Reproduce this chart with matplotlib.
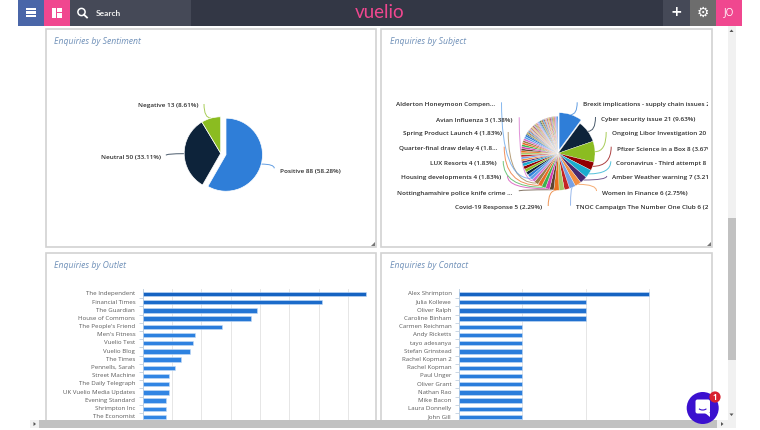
import numpy as np
import matplotlib
matplotlib.use("Agg")
import matplotlib.pyplot as plt
from matplotlib.patches import Rectangle, Circle, Polygon, PathPatch, FancyBboxPatch, Arc
from matplotlib.path import Path
from matplotlib.transforms import Bbox, TransformedBbox, ScaledTranslation

W, H = 760, 430
plt.rcParams['font.family'] = ['Open Sans', 'DejaVu Sans']

sentiment_names = ["Positive", "Neutral", "Negative"]
sentiment_values = [88, 50, 13]
sentiment_pct = ["58.28%", "33.11%", "8.61%"]

subject_values = [22, 21, 20, 8, 8, 7, 6, 6, 5, 5, 5, 4, 4, 4, 4, 4, 3, 3,
                  3, 3, 3, 3, 3,
                  2, 2, 2, 2, 2, 2, 2, 2, 2, 2, 2, 2, 2, 2,
                  1, 1, 1, 1, 1, 1, 1, 1, 1, 1, 1, 1, 1, 1, 1, 1, 1, 1,
                  1, 1, 1, 1, 1, 1, 1, 1, 1, 1, 1, 1, 1, 1, 1, 1, 1, 1]
right_labels = ["Brexit implications - supply chain issues 22 (10.09%)",
                "Cyber security issue 21 (9.63%)",
                "Ongoing Libor Investigation 20 (9.17%)",
                "Pfizer Science in a Box 8 (3.67%)",
                "Coronavirus - Third attempt 8 (3.67%)",
                "Amber Weather warning 7 (3.21%)",
                "Women in Finance 6 (2.75%)",
                "TNOC Campaign The Number One Club 6 (2.75%)"]
left_labels = ["Covid-19 Response 5 (2.29%)",
               "Nottinghamshire police knife crime ...",
               "Housing developments 4 (1.83%)",
               "LUX Resorts 4 (1.83%)",
               "Quarter-final draw delay 4 (1.8...",
               "Spring Product Launch 4 (1.83%)",
               "Avian Influenza 3 (1.38%)",
               "Alderton Honeymoon Compen..."]

outlet_names = ["The Independent", "Financial Times", "The Guardian", "House of Commons",
                "The People's Friend", "Men's Fitness", "Vuelio Test", "Vuelio Blog",
                "The Times", "Pennells, Sarah", "Street Machine", "The Daily Telegraph",
                "UK Vuelio Media Updates", "Evening Standard", "Shrimpton Inc", "The Economist"]
outlet_values = [76, 61, 39, 37, 27, 18, 17, 16, 13, 11, 9, 9, 9, 8, 8, 8]

contact_names = ["Alex Shrimpton", "Julia Kollewe", "Oliver Ralph", "Caroline Binham",
                 "Carmen Reichman", "Andy Ricketts", "tayo adesanya", "Stefan Grinstead",
                 "Rachel Kopman 2", "Rachel Kopman", "Paul Unger", "Oliver Grant",
                 "Nathan Rao", "Mike Bacon", "Laura Donnelly", "John Gill"]
contact_values = [3, 2, 2, 2, 1, 1, 1, 1, 1, 1, 1, 1, 1, 1, 1, 1]

palette = ["#2f7ed8", "#0d233a", "#8bbc21", "#910000", "#1aadce", "#492970", "#f28f43",
           "#77a1e5", "#c42525", "#a6c96a", "#e8701c", "#5b4632", "#d23fb4", "#3fb24f",
           "#ea6a24", "#9c7d4a", "#d56ccb", "#5d9fe8"]
LABEL = "#2b2b2b"
AXIS_TXT = "#5a5a5a"
TITLE = "#6f90b8"
PINK = "#f0478f"

fig = plt.figure(figsize=(W / 100, H / 100), dpi=100, facecolor="white")
bg = fig.add_axes([0, 0, 1, 1], zorder=0)
bg.set_xlim(0, W)
bg.set_ylim(H, 0)
bg.axis("off")


def px_axes(x0, y0, x1, y1, zorder=2):
    return fig.add_axes([x0 / W, 1 - y1 / H, (x1 - x0) / W, (y1 - y0) / H], zorder=zorder)


def rect(ax, x0, y0, x1, y1, color, **kw):
    ax.add_patch(Rectangle((x0, y0), x1 - x0, y1 - y0, facecolor=color, edgecolor="none", **kw))


def panel(x0, y0, x1, y1, title):
    bg.add_patch(Rectangle((x0, y0), x1 - x0, y1 - y0, facecolor="white", edgecolor="#d2d2d2", lw=1.2))
    bg.add_patch(Polygon([[x1 - 1, y1 - 5], [x1 - 1, y1 - 1], [x1 - 5, y1 - 1]], facecolor="#777777", edgecolor="none"))
    bg.text(x0 + 9, y0 + 13, title, style="italic", fontsize=6.2, color=TITLE, va="center")


def draw_pie(cx, cy, r, values, colors, explode, edge):
    k = 1.4
    ax = px_axes(cx - r * k, cy - r * k, cx + r * k, cy + r * k)
    wedges, _ = ax.pie(values, colors=colors, startangle=90, counterclock=False, explode=explode,
                       radius=1, frame=True, wedgeprops=dict(edgecolor="white", linewidth=edge))
    ax.set_xlim(-k, k)
    ax.set_ylim(-k, k)
    ax.axis("off")
    rims = []
    for w in wedges:
        a = np.radians((w.theta1 + w.theta2) / 2)
        rims.append((cx + r * (w.center[0] + np.cos(a)), cy - r * (w.center[1] + np.sin(a))))
    return rims


def leader(start, rim, color):
    path = Path([start, (start[0], rim[1]), rim], [Path.MOVETO, Path.CURVE3, Path.CURVE3])
    bg.add_patch(PathPatch(path, facecolor="none", edgecolor=color, lw=0.7, alpha=0.75))


def bar_chart(x0, top, x1, names, values, xmax, step, colors):
    ax = px_axes(x0, top, x1, 420)
    ys = np.arange(len(values))
    ax.barh(ys, values, height=0.55, color=colors, edgecolor="#c5dcf6", linewidth=0.4, zorder=3)
    ax.set_xlim(0, xmax)
    ax.set_ylim((420 - 294) / 8.2, (289 - 294) / 8.2)
    ax.set_xticks(np.arange(step, xmax, step))
    ax.tick_params(axis="x", length=0, labelbottom=False)
    ax.grid(axis="x", color="#e6e6e6", lw=0.7, zorder=0)
    ax.set_yticks(ys)
    ax.set_yticklabels(names, fontsize=4.4, color=AXIS_TXT)
    ax.tick_params(axis="y", which="major", length=0, pad=5.4)
    ax.set_yticks(ys[:-1] + 0.5, minor=True)
    ax.tick_params(axis="y", which="minor", length=3, width=0.6, color="#c0d0e0")
    for lab in ax.get_yticklabels():
        lab.set_transform(lab.get_transform() + ScaledTranslation(0, 0.7 / 100, fig.dpi_scale_trans))
    for s in ["top", "right", "bottom"]:
        ax.spines[s].set_visible(False)
    ax.spines["left"].set_color("#c0d0e0")
    ax.spines["left"].set_linewidth(0.7)
    ax.patch.set_alpha(0)
    return ax


def blue_for(v, vmax):
    t = v / vmax
    a = np.array(matplotlib.colors.to_rgb("#358ae8"))
    b = np.array(matplotlib.colors.to_rgb("#1563c2"))
    return tuple(a + (b - a) * t)


# panels
panel(45.5, 28.5, 376, 247, "Enquiries by Sentiment")
panel(381, 28.5, 711.5, 247, "Enquiries by Subject")
panel(45.5, 252.5, 376, 440, "Enquiries by Outlet")
panel(381, 252.5, 711.5, 440, "Enquiries by Contact")

# sentiment pie
sent_rims = draw_pie(220.7, 153.3, 36.5, sentiment_values, palette[:3], [0.15, 0, 0], 0.5)
sent_pos = [("left", 280, 170.3, (274.3, 168.3)),
            ("right", 160.7, 156.7, (166, 155.3)),
            ("right", 199, 106, (204, 104))]
for i, (ha, x, y, start) in enumerate(sent_pos):
    bg.text(x, y, f"{sentiment_names[i]} {sentiment_values[i]} ({sentiment_pct[i]})", ha=ha, va="center",
            fontsize=4.6, fontweight="semibold", color=LABEL)
    leader(start, sent_rims[i], palette[i])

# subject pie
subject_colors = [palette[i % len(palette)] for i in range(len(subject_values))]
subj_rims = draw_pie(558, 153.3, 37, subject_values, subject_colors,
                     [0.1] + [0] * (len(subject_values) - 1), 0.2)
right_pos = [(582.7, 104.3), (601, 119), (611.7, 134), (616.7, 148.7),
             (616.3, 163.3), (612.3, 178), (602, 193), (576, 207.7)]
left_pos = [(541.7, 208), (512.3, 193), (501, 178), (496.7, 163),
            (497.7, 148.7), (501.7, 134), (512.7, 119.3), (495, 104.3)]
clip = TransformedBbox(Bbox([[385, 28], [708, 247]]), bg.transData)
for i, (label, (x, y)) in enumerate(zip(right_labels, right_pos)):
    t = bg.text(x, y, label, ha="left", va="center", fontsize=4.6, fontweight="semibold", color=LABEL)
    t.set_clip_box(clip)
    t.set_clip_on(True)
    leader((x - 5.5, y - 2), subj_rims[i], subject_colors[i])
for i, (label, (x, y)) in enumerate(zip(left_labels, left_pos)):
    bg.text(x, y, label, ha="right", va="center", fontsize=4.6, fontweight="semibold", color=LABEL)
    leader((x + 6.5, y - 2), subj_rims[10 + i], subject_colors[10 + i])

# bar panels
bar_chart(142.7, 289, 142.7 + 77 * 2.933, outlet_names, outlet_values, 77, 10,
          [blue_for(v, max(outlet_values)) for v in outlet_values])
bar_chart(459, 289, 650, contact_names, contact_values, 3.01, 1,
          [blue_for(v, max(contact_values)) for v in contact_values])

# top nav
rect(bg, 18, 0, 43.5, 25.5, "#4a66a8")
rect(bg, 43.5, 0, 70, 25.5, PINK)
rect(bg, 70, 0, 191, 25.5, "#454957")
rect(bg, 191, 0, 663, 25.5, "#333745")
rect(bg, 663, 0, 689.7, 25.5, "#454957")
rect(bg, 689.7, 0, 716, 25.5, "#6d6d6d")
rect(bg, 716, 0, 742, 25.5, PINK)
for y in [9, 12.5, 16]:
    rect(bg, 25.5, y - 1.1, 35.5, y + 1.1, "white")
rect(bg, 52, 8, 56, 17.5, "white")
rect(bg, 57, 8, 61.5, 12, "white")
rect(bg, 57, 13, 61.5, 17.5, "white")
bg.add_patch(Circle((81.5, 12), 3.6, facecolor="none", edgecolor="white", lw=1.1))
bg.plot([84, 87], [14.7, 17.5], color="white", lw=1.3)
bg.text(95.5, 13, "Search", family="Lato", fontsize=6, fontweight="bold", color="#eeeeee", va="center")
bg.text(379.5, 12, "vuelio", family="Lato", fontsize=13.5, color=PINK, ha="center", va="center")
bg.text(676, 12.5, "+", family="DejaVu Sans", fontsize=10, fontweight="bold", color="white", ha="center", va="center")
bg.text(702.5, 12.5, "\u2699", family="DejaVu Sans", fontsize=10, color="white", ha="center", va="center")
bg.text(729, 12.5, "JO", fontsize=7.2, color="white", ha="center", va="center")

# scrollbars and chat button go over the charts
top = fig.add_axes([0, 0, 1, 1], zorder=5)
top.set_xlim(0, W)
top.set_ylim(H, 0)
top.axis("off")
top.patch.set_alpha(0)
rect(top, 727.5, 26, 735.7, 428, "#f1f1f1")
rect(top, 727.5, 218, 735.7, 360, "#c1c1c1")
rect(top, 30, 420, 735.7, 428, "#f1f1f1")
rect(top, 39, 420, 717, 428, "#c1c1c1")
rect(top, 0, 428, W, H, "white")
for pts in ([[729.5, 32], [731.5, 29.5], [733.5, 32]],
            [[729.5, 413.5], [731.5, 416], [733.5, 413.5]],
            [[33.5, 422], [36, 424], [33.5, 426]],
            [[721, 422], [723.5, 424], [721, 426]]):
    top.add_patch(Polygon(pts, facecolor="#555555", edgecolor="none"))
top.add_patch(Circle((702.7, 408), 16, facecolor="#3b10cf", edgecolor="none"))
top.add_patch(FancyBboxPatch((696, 400), 13.5, 13, boxstyle="round,pad=0.5,rounding_size=2", facecolor="white", edgecolor="none"))
top.add_patch(Polygon([[705, 413], [709.5, 413], [709.5, 416.5]], facecolor="white", edgecolor="none"))
top.add_patch(Arc((702.7, 407), 9, 6, theta1=25, theta2=155, edgecolor="#3b10cf", lw=0.8))
top.add_patch(Circle((715, 397), 5.6, facecolor="#d8202f", edgecolor="none"))
top.text(715, 397, "1", fontsize=5.5, fontweight="bold", color="white", ha="center", va="center")

fig.savefig("out.png", dpi=100)
